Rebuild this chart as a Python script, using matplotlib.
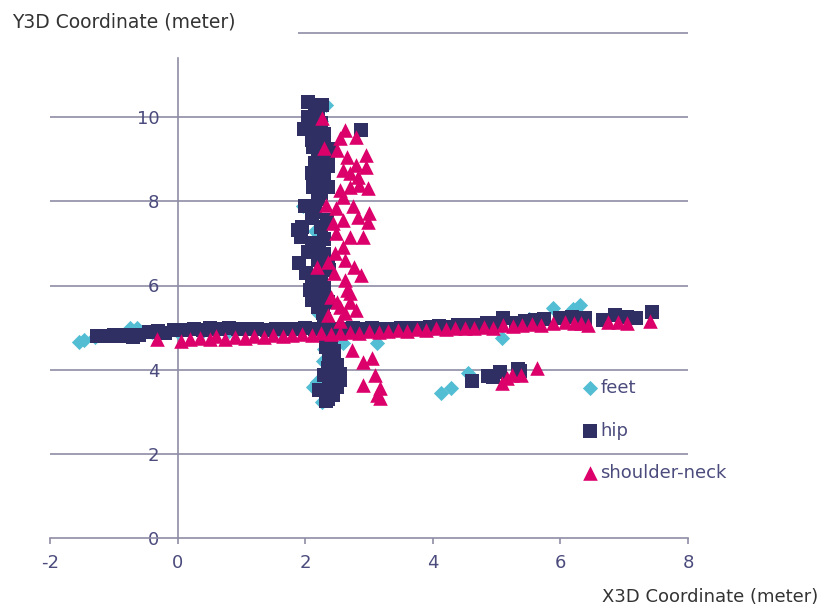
import matplotlib
matplotlib.use("Agg")
import matplotlib.pyplot as plt

plt.rcParams["axes.unicode_minus"] = False

# ===== data =====
# feet (diamonds): band, vertical walk, lower cluster
feet_x = [-1.54, -1.46, -1.3, -0.75, -0.64, -0.4, 0.0, 0.4, 0.8, 1.2, 1.6,
          2.2, 2.59, 3.12, 3.6, 4.0, 4.5, 5.08, 5.5, 5.88, 6.2, 6.3,
          2.33, 2.25, 2.2, 2.25, 2.2, 1.96, 2.15, 2.19, 2.2, 2.12, 2.25,
          2.3, 2.28, 2.19, 2.12, 2.26, 2.4,
          4.13, 4.28, 4.55]
feet_y = [4.66, 4.7, 4.78, 5.0, 4.99, 4.9, 4.9, 4.92, 4.93, 4.92, 4.93,
          5.35, 4.63, 4.63, 4.95, 5.0, 5.05, 4.76, 5.2, 5.47, 5.45, 5.54,
          10.3, 9.9, 9.4, 8.9, 8.4, 7.9, 7.3, 7.03, 6.6, 5.9, 5.6,
          4.5, 4.2, 3.71, 3.6, 3.23, 3.35,
          3.45, 3.56, 3.92]

# hip (squares)
hip_x = [-1.27, -1.12, -1.0, -0.9, -0.8, -0.7, -0.6, -0.45, -0.3, -0.2, -0.05,
         0.1, 0.25, 0.4, 0.5, 0.65, 0.8, 0.95, 1.1, 1.25, 1.4, 1.55, 1.7, 1.85,
         2.0, 2.15, 2.3, 2.45, 2.6, 2.75, 2.9, 3.05, 3.2, 3.35, 3.5, 3.65, 3.8,
         3.95, 4.1, 4.25, 4.4, 4.55, 4.7, 4.85, 5.0, 5.1, 5.3, 5.45, 5.6, 5.75,
         5.99, 6.18, 6.38, 6.66, 6.85, 7.05, 7.19, 7.43,
         2.04, 2.26, 2.15, 1.98, 2.12, 2.3, 2.88, 2.12, 2.25, 2.35, 2.4, 2.18,
         2.1, 2.3, 2.12, 2.25, 2.0, 2.15, 2.34, 1.88, 1.94, 2.22, 2.3, 1.91,
         2.02, 2.38, 2.15, 2.07, 2.3, 2.1, 2.28, 2.2,
         2.2, 2.05, 2.25, 2.1, 2.3, 2.2, 2.35, 2.22, 2.35, 2.2, 2.1, 2.25,
         2.1, 2.3, 2.05, 2.2, 2.35, 2.1, 2.25, 2.2, 2.35, 2.3, 1.95, 2.15,
         2.33, 2.4, 2.38, 2.5, 2.46, 2.3, 2.38, 2.55, 2.22, 2.43, 2.32, 2.55,
         2.4, 2.45, 2.35, 2.5, 2.4, 2.35,
         4.61, 4.86, 4.95, 5.05, 5.33, 5.36]
hip_y = [4.8, 4.8, 4.82, 4.8, 4.82, 4.78, 4.82, 4.9, 4.92, 4.88, 4.95,
         4.95, 4.97, 4.95, 4.98, 4.97, 4.98, 4.97, 4.96, 4.97, 4.95, 4.96, 4.96, 4.97,
         4.98, 4.97, 4.98, 4.97, 4.97, 4.98, 4.97, 4.98, 4.96, 4.97, 4.98, 4.98, 5.0,
         5.02, 5.03, 5.02, 5.05, 5.05, 5.07, 5.1, 5.1, 5.22, 5.1, 5.15, 5.18, 5.2,
         5.23, 5.25, 5.23, 5.18, 5.3, 5.25, 5.23, 5.37,
         10.36, 10.3, 10.1, 9.72, 9.75, 9.6, 9.7, 9.3, 9.2, 9.0, 9.25, 8.75,
         8.67, 8.5, 8.35, 8.2, 7.9, 7.75, 7.56, 7.32, 7.15, 6.92, 6.75, 6.53,
         6.3, 6.37, 6.15, 5.9, 5.95, 5.66, 5.35, 5.5,
         10.2, 10.0, 9.85, 9.45, 9.4, 9.1, 8.85, 8.6, 8.35, 8.05, 7.6, 7.4,
         7.0, 7.1, 6.8, 6.6, 6.55, 6.1, 6.2, 5.75, 5.6, 5.2, 7.4, 8.9,
         4.54, 4.35, 4.23, 4.1, 3.94, 3.87, 3.64, 3.75, 3.52, 3.4, 3.25, 3.9,
         4.75, 4.45, 4.05, 3.6, 3.55, 3.3,
         3.73, 3.85, 3.83, 3.94, 4.02, 3.98]

# shoulder-neck (triangles)
sn_x = [-0.33, 0.05, 0.2, 0.35, 0.5, 0.6, 0.75, 0.9, 1.05, 1.2, 1.35, 1.5,
        1.65, 1.8, 1.95, 2.1, 2.25, 2.4, 2.55, 2.7, 2.85, 3.0, 3.15, 3.3,
        3.45, 3.6, 3.75, 3.9, 4.05, 4.2, 4.35, 4.5, 4.65, 4.8, 4.95, 5.1,
        5.25, 5.4, 5.55, 5.7, 5.88, 6.07, 6.22, 6.33, 6.43, 6.74, 6.9, 7.05, 7.4,
        2.27, 2.63, 2.8, 2.29, 2.5, 2.66, 2.95, 2.96, 2.8, 2.7, 2.82, 2.54,
        2.7, 2.98, 2.59, 2.33, 2.49, 2.82, 3.0, 2.99, 2.43, 2.49, 2.7, 2.9,
        2.19, 2.35, 2.46, 2.59, 2.77, 2.88, 2.62, 2.41, 2.54, 2.7, 2.8, 2.62,
        2.55, 2.6, 2.85, 2.6, 2.75, 2.62, 2.45, 2.65, 2.5, 2.35, 2.55, 2.7,
        2.74, 2.9, 3.04, 2.9, 3.09, 3.17, 3.13, 3.17,
        5.09, 5.16, 5.24, 5.39, 5.64]
sn_y = [4.72, 4.68, 4.72, 4.75, 4.72, 4.8, 4.72, 4.78, 4.75, 4.8, 4.78, 4.82,
        4.8, 4.82, 4.85, 4.83, 4.86, 4.85, 4.88, 4.9, 4.88, 4.92, 4.9, 4.93,
        4.95, 4.93, 4.97, 4.95, 4.98, 4.97, 5.0, 4.98, 5.0, 5.02, 5.0, 5.05,
        5.03, 5.05, 5.08, 5.07, 5.12, 5.13, 5.12, 5.12, 5.05, 5.13, 5.13, 5.12, 5.15,
        9.98, 9.7, 9.53, 9.27, 9.22, 9.05, 9.1, 8.82, 8.86, 8.67, 8.58, 8.27,
        8.35, 8.32, 8.1, 7.91, 7.84, 7.63, 7.72, 7.51, 7.49, 7.25, 7.15, 7.15,
        6.44, 6.56, 6.77, 6.92, 6.44, 6.25, 6.13, 5.73, 5.49, 5.82, 5.42, 5.35,
        9.5, 8.75, 8.4, 7.55, 7.9, 6.6, 6.3, 5.9, 5.6, 5.3, 5.15, 5.6,
        4.47, 4.18, 4.28, 3.64, 3.87, 3.56, 3.4, 3.33,
        3.68, 3.8, 3.87, 3.87, 4.04]

x_ticks = [-2, 0, 2, 4, 6, 8]
y_ticks = [0, 2, 4, 6, 8, 10]

# ===== style =====
axis_color = "#8e8ca5"
tick_color = "#4b4b7d"
feet_color = "#52bdd3"
hip_color = "#2f2f63"
sn_color = "#dc006b"

fig = plt.figure(figsize=(8.3, 6.08), dpi=100)
ax = fig.add_axes([50 / 830, 70 / 608, 638 / 830, 505 / 608])

ax.set_xlim(-2, 8)
ax.set_ylim(0, 12)

for y in y_ticks[1:]:
    ax.axhline(y, color=axis_color, lw=1.2, zorder=1)
ax.hlines(12, 1.88, 8, color=axis_color, lw=1.2, zorder=1, clip_on=False)

ax.scatter(feet_x, feet_y, marker="D", s=60, color=feet_color, linewidths=0, zorder=3, label="feet")
ax.scatter(hip_x, hip_y, marker="s", s=110, color=hip_color, linewidths=0, zorder=4, label="hip")
ax.scatter(sn_x, sn_y, marker="^", s=110, color=sn_color, linewidths=0, zorder=5, label="shoulder-neck")

for s in ["top", "right"]:
    ax.spines[s].set_visible(False)
ax.spines["left"].set_position(("data", 0))
ax.spines["left"].set_bounds(0, 11.4)
ax.spines["left"].set_color(axis_color)
ax.spines["left"].set_linewidth(1.2)
ax.spines["bottom"].set_color(axis_color)
ax.spines["bottom"].set_linewidth(1.2)

ax.set_xticks(x_ticks)
ax.set_yticks(y_ticks)
ax.tick_params(axis="x", direction="out", length=4.5, width=1.2, color=axis_color,
               labelcolor=tick_color, labelsize=13, pad=7)
ax.tick_params(axis="y", length=0, labelcolor=tick_color, labelsize=13, pad=13)

fig.text(12 / 830, 1 - 22 / 608, "Y3D Coordinate (meter)", fontsize=13.5,
         color="#333333", ha="left", va="center")
fig.text(818 / 830, 1 - 597 / 608, "X3D Coordinate (meter)", fontsize=13,
         color="#333333", ha="right", va="center")

leg = ax.legend(loc="upper left", bbox_to_anchor=((575 - 50) / 638, (538 - 372) / 505),
                frameon=False, fontsize=13, labelspacing=1.35, handletextpad=0.1,
                handlelength=0.9, borderaxespad=0)
for t in leg.get_texts():
    t.set_color(tick_color)

fig.savefig("out.png", dpi=100)
